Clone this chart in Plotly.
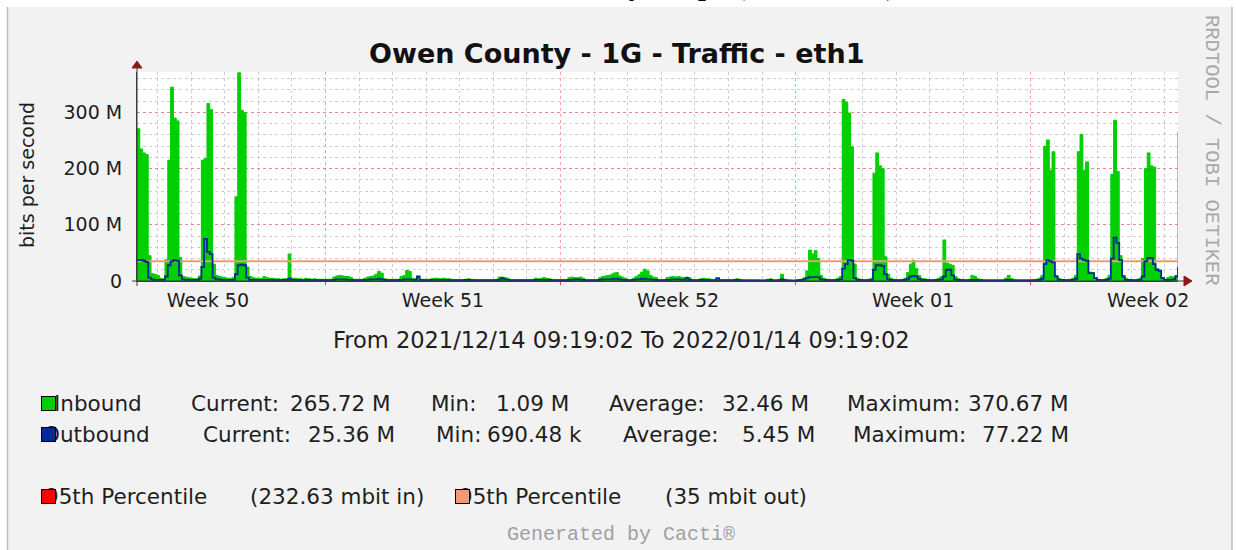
import pandas as pd
import plotly.graph_objects as go

# ---------------- data (Mbit/s, 2-hour samples) ----------------
start_time = "2021-12-14 09:19:02"
end_time = "2022-01-14 09:19:02"
sample_count = 373

inbound_mbps = (
    [271, 235, 228, 225, 45, 13, 12, 10]                              # Dec 14 (from 09:19)
    + [5, 4, 38, 215, 345, 290, 285, 42, 8, 7, 6, 5]                  # Dec 15
    + [4, 4, 9, 215, 218, 316, 305, 30, 10, 8, 7, 6]                  # Dec 16
    + [5, 5, 6, 150, 370.67, 304, 300, 25, 8, 6, 5, 5]                # Dec 17
    + [4, 8, 6, 5, 5, 4, 4, 3, 4, 4, 48, 5]                           # Dec 18
    + [5, 4, 4, 3, 5, 4, 3, 4, 3, 3, 3, 3]                            # Dec 19
    + [3, 3, 7, 9, 10, 9, 8, 8, 6, 3, 3, 3]                           # Dec 20
    + [3, 5, 7, 8, 9, 12, 17, 14, 4, 3, 3, 3]                         # Dec 21
    + [3, 3, 8, 10, 19, 17, 5, 4, 8, 3, 3, 3]                         # Dec 22
    + [3, 4, 5, 5, 4, 5, 4, 4, 3, 2, 2, 2]                            # Dec 23
    + [2, 3, 4, 3, 2, 2, 2, 2, 2, 2, 2, 2]                            # Dec 24
    + [3, 7, 7, 6, 5, 2, 2, 2, 2, 2, 2, 2]                            # Dec 25
    + [2, 2, 5, 4, 5, 6, 5, 4, 2, 2, 2, 2]                            # Dec 26
    + [2, 2, 6, 7, 6, 6, 7, 5, 2, 2, 2, 2]                            # Dec 27
    + [2, 6, 8, 9, 10, 11, 14, 15, 9, 7, 5, 2]                        # Dec 28
    + [2, 5, 8, 11, 16, 21, 18, 10, 7, 6, 2, 2]                       # Dec 29
    + [2, 6, 7, 8, 7, 8, 7, 6, 7, 6, 2, 2]                            # Dec 30
    + [2, 4, 5, 4, 4, 2, 2, 4, 2, 2, 2, 2]                            # Dec 31
    + [2, 3, 4, 3, 2, 2, 2, 2, 2, 2, 1.5, 1.5]                        # Jan 01
    + [1.5, 3, 4, 2, 2, 2, 12, 3, 2, 1.5, 1.09, 1.5]                  # Jan 02
    + [2, 3, 6, 18, 55, 48, 54, 40, 10, 5, 3, 2]                      # Jan 03
    + [2, 3, 5, 8, 323, 318, 299, 239, 30, 5, 3, 2]                   # Jan 04
    + [2, 3, 5, 192, 228, 205, 200, 43, 12, 5, 3, 2]                  # Jan 05
    + [2, 3, 5, 15, 30, 37, 22, 10, 5, 4, 3, 2]                       # Jan 06
    + [2, 3, 5, 8, 73, 32, 30, 28, 8, 4, 3, 2]                        # Jan 07
    + [2, 3, 10, 8, 4, 3, 2, 2, 2, 2, 2, 2]                           # Jan 08
    + [2, 2, 5, 10, 4, 3, 2, 2, 2, 2, 2, 2]                           # Jan 09
    + [2, 3, 5, 10, 240, 251, 197, 230, 10, 5, 3, 2]                  # Jan 10
    + [2, 3, 5, 10, 230, 261, 197, 212, 16, 15, 6, 3]                 # Jan 11
    + [2, 3, 5, 10, 190, 286, 195, 45, 10, 5, 3, 2]                   # Jan 12
    + [2, 3, 5, 40, 200, 228, 205, 203, 22, 20, 6, 3]                 # Jan 13
    + [6, 8, 7, 10, 265.72]                                           # Jan 14
)

outbound_mbps = (
    [37, 37, 36, 34, 6, 3, 2, 2]
    + [2, 2, 8, 28, 35, 37, 36, 10, 3, 2, 2, 2]
    + [2, 2, 4, 25, 75, 52, 48, 6, 3, 3, 2, 2]
    + [2, 2, 2, 12, 28, 29, 28, 6, 2, 2, 2, 2]
    + [2, 2, 2, 2, 2, 1.5, 1.5, 1.5, 2, 2, 4, 2]
    + [2, 2, 1.5, 1.5, 2, 2, 1.5, 1.5, 1.5, 1.5, 1.5, 1.5]
    + [1.5, 1.5, 2, 3, 3, 3, 3, 2, 2, 1.5, 1.5, 1.5]
    + [1.5, 2, 2, 3, 3, 3, 4, 3, 2, 1.5, 1.5, 1.5]
    + [1.5, 1.5, 2, 3, 3, 3, 2, 2, 8, 2, 1.5, 1.5]
    + [1.5, 2, 2, 2, 2, 2, 2, 1.5, 1.5, 1.5, 1.5, 1.5]
    + [1.5, 2, 2, 1.5, 1.5, 1.5, 1.5, 1.5, 1.5, 1.5, 1.5, 1.5]
    + [1.5, 2, 5, 3, 2, 1.5, 1.5, 1.5, 1.5, 1.5, 1.5, 1.5]
    + [1.5, 1.5, 2, 2, 2, 2, 2, 2, 1.5, 1.5, 1.5, 1.5]
    + [1.5, 1.5, 2, 2, 3, 3, 2, 2, 1.5, 1.5, 1.5, 1.5]
    + [1.5, 2, 3, 3, 3, 3, 4, 4, 3, 2, 2, 1.5]
    + [1.5, 2, 3, 3, 4, 4, 3, 3, 2, 2, 1.5, 1.5]
    + [1.5, 2, 2, 3, 3, 3, 2, 2, 5, 2, 1.5, 1.5]
    + [1.5, 2, 2, 2, 1.5, 1.5, 1.5, 5, 1.5, 1.5, 1.5, 1.5]
    + [1.2, 1.5, 2, 1.5, 1.2, 1.2, 1.2, 1.2, 1.2, 1.2, 1.2, 1.2]
    + [1.2, 1.5, 2, 1.2, 1.2, 1.5, 3, 1.5, 1.2, 1, 0.69, 1]
    + [1.5, 2, 3, 5, 7, 7, 7, 7, 3, 2, 2, 1.5]
    + [1.5, 1.5, 2, 3, 22, 30, 37, 36, 5, 2, 2, 1.5]
    + [1.5, 1.5, 2, 20, 28, 28, 27, 12, 3, 2, 1.5, 1.5]
    + [1.5, 1.5, 2, 4, 8, 9, 8, 4, 2, 2, 1.5, 1.5]
    + [1.5, 1.5, 2, 3, 8, 20, 20, 10, 3, 2, 1.5, 1.5]
    + [1.2, 1.5, 2, 2, 1.5, 1.5, 1.2, 1.2, 1.2, 1.2, 1.2, 1.2]
    + [1.2, 1.2, 1.5, 2, 1.5, 1.2, 1.2, 1.2, 1.2, 1.2, 1.2, 1.2]
    + [1.5, 1.5, 2, 4, 30, 37, 35, 33, 8, 2, 2, 1.5]
    + [1.5, 1.5, 2, 4, 48, 40, 37, 36, 14, 14, 5, 2]
    + [1.5, 1.5, 2, 4, 40, 77.22, 68, 37, 8, 2, 2, 1.5]
    + [1.5, 1.5, 2, 8, 35, 41, 41, 30, 20, 18, 5, 2]
    + [2, 2, 3, 8, 25.36]
)

pct95_out_mbps = 35
y_tick_values = [0, 100, 200, 300]
y_tick_labels = ["0", "100 M", "200 M", "300 M"]

legend_rows = [
    ("Inbound", "265.72 M", "1.09 M", "32.46 M", "370.67 M"),
    ("Outbound", "25.36 M", "690.48 k", "5.45 M", "77.22 M"),
]
pct_labels = [("95th Percentile", "(232.63 mbit in)"), ("95th Percentile", "(35 mbit out)")]

times = pd.date_range(start_time, periods=sample_count, freq="2h")

# ---------------- styles ----------------
GREEN = "#00CF00"
BLUE = "#002A97"
ORANGE = "#F09A74"
RED = "#FF0000"
FONT = "DejaVu Sans"
MONO = "Liberation Mono"
W, H = 1236, 550
PL, PR, PT, PB = 137, 1178, 72, 281


def px(x):
    return (x - PL) / (PR - PL)


def py(y):
    return (PB - y) / (PB - PT)


fig = go.Figure()
fig.add_trace(go.Scatter(
    x=times, y=inbound_mbps, mode="lines", line=dict(color=GREEN, width=1, shape="hv"),
    fill="tozeroy", fillcolor=GREEN, hoverinfo="skip", name="Inbound"))
fig.add_trace(go.Scatter(
    x=[times[0], times[-1]], y=[pct95_out_mbps, pct95_out_mbps], mode="lines",
    line=dict(color=ORANGE, width=2), hoverinfo="skip", name="95th out"))
fig.add_trace(go.Scatter(
    x=times, y=outbound_mbps, mode="lines", line=dict(color=BLUE, width=1.8, shape="hv"),
    hoverinfo="skip", name="Outbound"))

major_grid = "rgba(255,70,70,0.5)"
minor_grid = "rgba(160,160,160,0.5)"

fig.update_layout(
    width=W, height=H, autosize=False,
    margin=dict(l=PL, r=W - PR, t=PT, b=H - PB, pad=0),
    paper_bgcolor="#F2F2F2", plot_bgcolor="#FFFFFF",
    showlegend=False,
    font=dict(family=FONT, size=19, color="#1E1E1E"),
    xaxis=dict(
        type="date", range=[start_time, end_time],
        dtick=604800000, tick0="2021-12-20", tickformat="Week %V", ticklabelmode="period",
        showgrid=True, gridcolor=major_grid, griddash="dot", gridwidth=1,
        ticks="outside", ticklen=3, tickcolor="#E05050",
        showline=True, linecolor="#3A3A3A", linewidth=1, zeroline=False,
        tickfont=dict(family=FONT, size=19, color="#1E1E1E"),
        ticklabelstandoff=-1,
        minor=dict(dtick=86400000, tick0="2021-12-15", showgrid=True,
                   gridcolor=minor_grid, griddash="dot", gridwidth=1),
    ),
    yaxis=dict(
        range=[0, 372], tickmode="array", tickvals=y_tick_values, ticktext=y_tick_labels,
        showgrid=True, gridcolor=major_grid, griddash="dot", gridwidth=1,
        ticks="", showline=True, linecolor="#3A3A3A", linewidth=1, zeroline=False,
        tickfont=dict(family=FONT, size=19, color="#1E1E1E"),
        ticklabelstandoff=10,
        minor=dict(tickmode="linear", tick0=0, dtick=20, showgrid=True,
                   gridcolor=minor_grid, griddash="dot", gridwidth=1),
    ),
)

shapes = []
# white strip at the top and frame borders
shapes.append(dict(type="rect", xref="paper", yref="paper", x0=px(-5), x1=px(W + 5), y0=py(7), y1=py(-5),
                   fillcolor="#FFFFFF", line=dict(width=0), layer="below"))
shapes.append(dict(type="rect", xref="paper", yref="paper", x0=px(-5), x1=px(7), y0=py(7), y1=py(H + 5),
                   fillcolor="#FFFFFF", line=dict(width=0), layer="below"))
shapes.append(dict(type="line", xref="paper", yref="paper", x0=px(7.5), x1=px(7.5), y0=py(7), y1=py(H + 5),
                   line=dict(color="#BEBEBE", width=1.5)))
shapes.append(dict(type="rect", xref="paper", yref="paper", x0=px(1232), x1=px(W + 5), y0=py(7), y1=py(H + 5),
                   fillcolor="#FFFFFF", line=dict(width=0), layer="below"))
shapes.append(dict(type="line", xref="paper", yref="paper", x0=px(1232), x1=px(1232), y0=py(7), y1=py(H + 5),
                   line=dict(color="#BEBEBE", width=1.5)))
# axis extensions and arrows
shapes.append(dict(type="line", xref="paper", yref="paper", x0=0, x1=0, y0=py(286), y1=py(66),
                   line=dict(color="#3A3A3A", width=1)))
shapes.append(dict(type="line", xref="paper", yref="paper", x0=px(132), x1=px(1184), y0=0, y1=0,
                   line=dict(color="#3A3A3A", width=1)))
shapes.append(dict(type="path", xref="paper", yref="paper",
                   path=f"M {px(137)},{py(61)} L {px(132)},{py(68)} L {px(142)},{py(68)} Z",
                   fillcolor="#8B1A1A", line=dict(color="#8B1A1A", width=1)))
shapes.append(dict(type="path", xref="paper", yref="paper",
                   path=f"M {px(1192)},{py(281)} L {px(1184)},{py(276)} L {px(1184)},{py(286)} Z",
                   fillcolor="#8B1A1A", line=dict(color="#8B1A1A", width=1)))

annotations = []


def text(s, x, y, size=21.5, xanchor="left", family=FONT, color="#1E1E1E", angle=0, bold=False):
    annotations.append(dict(
        text=s, x=px(x), y=py(y), xref="paper", yref="paper", xanchor=xanchor, yanchor="middle",
        showarrow=False, textangle=angle,
        font=dict(family=family, size=size, color=color, weight="bold" if bold else "normal")))


# cut-off page heading above the graph (only its descenders show in the original)
annotations.append(dict(
    text="Monthly Graph (Last Month)", x=px(538), y=py(3), xref="paper", yref="paper",
    xanchor="left", yanchor="bottom", showarrow=False,
    font=dict(family="Liberation Serif", size=28, color="#000000", weight="bold")))

text("Owen County - 1G - Traffic - eth1", 616, 53, size=27, xanchor="center", bold=True, color="#111111")
text("bits per second", 27, 175, size=19, xanchor="center", angle=-90)
text("RRDTOOL / TOBI OETIKER", 1212, 150, size=20.5, xanchor="center", family=MONO, color="#A8A8A8", angle=90)
text("From 2021/12/14 09:19:02 To 2022/01/14 09:19:02", 621, 340, size=22.5, xanchor="center")

row_y = [403, 434]
name_x = [52, 41]
cur_x = [189, 201]
cur_r = [393, 397]
min_x = [429, 434]
min_r = [571, 584]
avg_x = [607, 621]
avg_r = [811, 817]
max_x = [845, 851]
for i, (name, cur, mn, avg, mx) in enumerate(legend_rows):
    y = row_y[i]
    text(name, name_x[i], y)
    text("Current:", cur_x[i], y)
    text(cur, cur_r[i], y, xanchor="right")
    text("Min:", min_x[i], y)
    text(mn, min_r[i], y, xanchor="right")
    text("Average:", avg_x[i], y)
    text(avg, avg_r[i], y, xanchor="right")
    text("Maximum:", max_x[i], y)
    text(mx, 1071, y, xanchor="right")

text(pct_labels[0][0], 43, 496)
text(pct_labels[0][1], 248, 496)
text(pct_labels[1][0], 457, 496)
text(pct_labels[1][1], 663, 496)
text("Generated by Cacti®", 621, 534, size=20, xanchor="center", family=MONO, color="#A0A0A0")

# legend colour boxes, drawn after the texts so they cover the first glyph (as in the original)
for (cx, cy, col) in [(48.5, 403.5, GREEN), (48.5, 434.5, BLUE), (48.5, 496.5, RED), (462.5, 496.5, ORANGE)]:
    annotations.append(dict(
        text="", x=px(cx), y=py(cy), xref="paper", yref="paper", xanchor="center", yanchor="middle",
        showarrow=False, width=13, height=13, borderpad=0, borderwidth=1,
        bgcolor=col, bordercolor="#000000"))

fig.update_layout(shapes=shapes, annotations=annotations)
fig.write_html("out.html", config={"displayModeBar": False},
               post_script="document.body.style.margin='0px';")
